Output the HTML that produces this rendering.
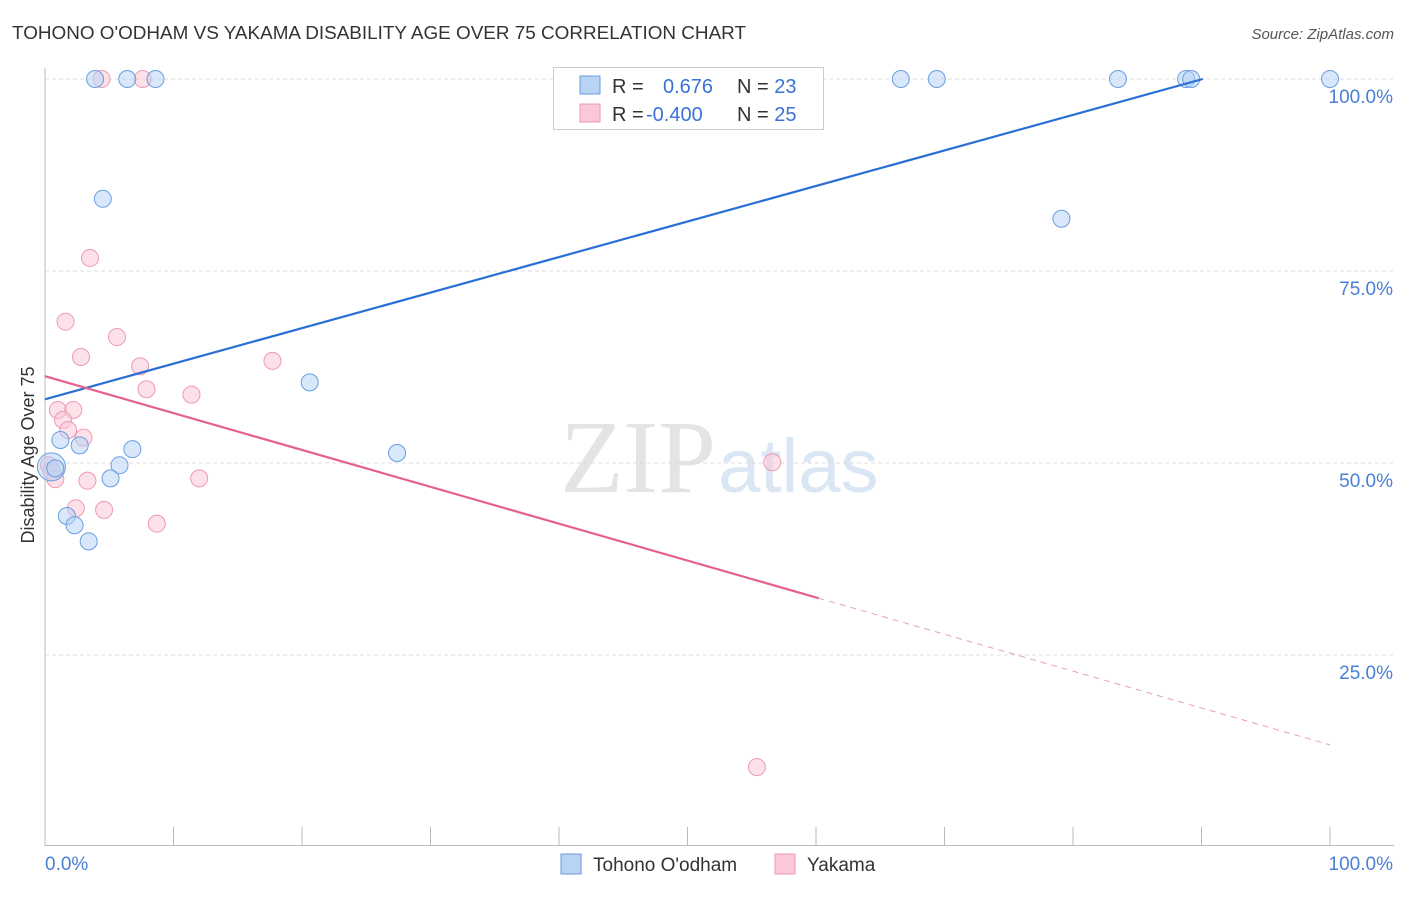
<!DOCTYPE html>
<html><head><meta charset="utf-8"><style>
body{margin:0;background:#fff;font-family:"Liberation Sans",sans-serif}
</style></head><body>
<svg id="c" width="1406" height="892" xmlns="http://www.w3.org/2000/svg" font-family="Liberation Sans, sans-serif">
<text x="12" y="39" font-size="18" fill="#333" textLength="734" lengthAdjust="spacingAndGlyphs">TOHONO O'ODHAM VS YAKAMA DISABILITY AGE OVER 75 CORRELATION CHART</text>
<text x="1394" y="39" font-size="15" fill="#555" font-style="italic" text-anchor="end">Source: ZipAtlas.com</text>
<text x="716" y="492" font-size="104" fill="#e4e4e4" text-anchor="end" font-family="Liberation Serif, serif">ZIP</text>
<text x="718" y="492" font-size="76" fill="#dbe6f4">atlas</text>
<g id="grid"></g><g id="axes"></g><g id="marks"></g>
<text transform="translate(34,455) rotate(-90)" font-size="18" fill="#333" text-anchor="middle">Disability Age Over 75</text>
<g>
<rect x="553.5" y="67.5" width="270" height="62" fill="#fff" stroke="#ccc"/>
<rect x="580" y="76" width="20" height="18" fill="#b8d3f4" stroke="#6a9ee0"/>
<rect x="580" y="104" width="20" height="18" fill="#fac8d6" stroke="#ee9ab4"/>
<text x="612" y="93" font-size="20" fill="#333">R = <tspan x="663" fill="#3a72d8">0.676</tspan><tspan x="737" fill="#333">N = </tspan><tspan fill="#3a72d8">23</tspan></text>
<text x="612" y="121" font-size="20" fill="#333">R = <tspan x="646" fill="#3a72d8">-0.400</tspan><tspan x="737" fill="#333">N = </tspan><tspan fill="#3a72d8">25</tspan></text>
</g>
<g>
<rect x="561" y="854" width="20" height="20" fill="#b8d3f4" stroke="#6a9ee0"/>
<text x="593" y="871" font-size="19" fill="#333">Tohono O'odham</text>
<rect x="775" y="854" width="20" height="20" fill="#fac8d6" stroke="#ee9ab4"/>
<text x="807" y="871" font-size="19" fill="#333">Yakama</text>
</g>
</svg>
<script>
const xTicks=[0,10,20,30,40,50,60,70,80,90,100];
const yTicks=[25,50,75,100];
const yTickLabels=["25.0%","50.0%","75.0%","100.0%"];
const blueX=[3.9,6.4,8.6,66.6,69.4,83.5,88.8,89.2,100,4.5,79.1,20.6,1.2,2.7,6.8,27.4,5.8,0.5,0.8,5.1,1.7,2.3,3.4];
const blueY=[100,100,100,100,100,100,100,100,100,84.4,81.8,60.5,53.0,52.3,51.8,51.3,49.7,49.5,49.3,48.0,43.1,41.9,39.8];
const pinkX=[4.4,7.6,3.5,1.6,5.6,2.8,7.4,17.7,7.9,11.4,1.0,2.2,1.4,1.8,3.0,0.3,0.5,0.8,3.3,12.0,2.4,4.6,8.7,56.6,55.4];
const pinkY=[100,100,76.7,68.4,66.4,63.8,62.6,63.3,59.6,58.9,56.9,56.9,55.6,54.3,53.3,49.7,49.0,47.9,47.7,48.0,44.1,43.9,42.1,50.1,10.4];
const blueTrend=[[0,58.3],[90.1,100]];
const pinkTrend=[[0,61.3],[60.2,32.4]];
const pinkTrendExt=[[60.2,32.4],[100,13.3]];
const NS="http://www.w3.org/2000/svg";
const X=v=>45+v*12.85, Y=v=>847-v*7.68;
function mk(t,a,p){const e=document.createElementNS(NS,t);for(const k in a)e.setAttribute(k,a[k]);document.getElementById(p).appendChild(e);return e;}
yTicks.forEach((t,i)=>{
 const g=mk('line',{x1:45,x2:1394,y1:Y(t),y2:Y(t),stroke:'#ddd','stroke-dasharray':'4,3'},'grid');
 
 
 const l=mk('text',{x:1393,y:Y(t)+24,'font-size':19,fill:'#4a7fd6','text-anchor':'end'},'axes');
 l.textContent=yTickLabels[i];
 
 
});
const ya=mk('line',{x1:45,x2:45,y1:68,y2:846,stroke:'#bbb'},'axes');


const xa=mk('line',{x1:45,x2:1394,y1:845.5,y2:845.5,stroke:'#bbb'},'axes');


xTicks.forEach(t=>{const l=mk('line',{x1:X(t),x2:X(t),y1:827,y2:845,stroke:'#bbb'},'axes');
 
 });
const x0=mk('text',{x:45,y:870,'font-size':19,fill:'#4a7fd6'},'axes');x0.textContent='0.0%';


const x1=mk('text',{x:1393,y:870,'font-size':19,fill:'#4a7fd6','text-anchor':'end'},'axes');x1.textContent='100.0%';


function pts(xs,ys,fill,stroke,name){xs.forEach((v,i)=>{
 const big=(name==='tohono-point'&&i===17);
 const c=mk('circle',{cx:X(v),cy:Y(ys[i]),r:big?14:8.5,fill:fill,'fill-opacity':0.55,stroke:stroke,'stroke-width':1},'marks');
 
 });}
pts(pinkX,pinkY,'#fac8d6','#ee9ab4','yakama-point');
pts(blueX,blueY,'#b8d3f4','#6a9ee0','tohono-point');
function ln(p,col,dash,name,w){const l=mk('line',{x1:X(p[0][0]),y1:Y(p[0][1]),x2:X(p[1][0]),y2:Y(p[1][1]),stroke:col,'stroke-width':w},'marks');
 if(dash)l.setAttribute('stroke-dasharray',dash);
 
 }
ln(blueTrend,'#2a6fd6',null,'tohono-trend-line',2.2);
ln(pinkTrend,'#e5608e',null,'yakama-trend-line',2.2);
ln(pinkTrendExt,'#e5a0b8','6,5','yakama-trend-extension',1);
</script>
</body></html>
